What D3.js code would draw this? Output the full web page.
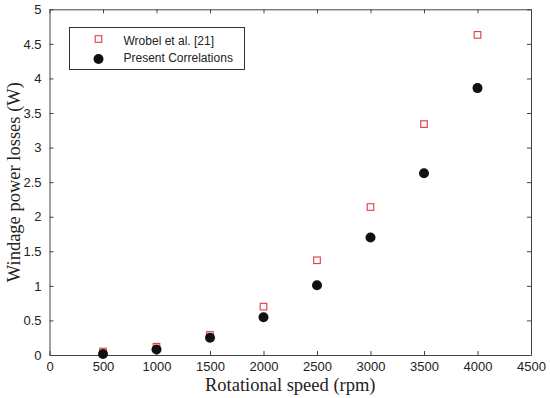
<!DOCTYPE html>
<html>
<head>
<meta charset="utf-8">
<script src="https://cdn.jsdelivr.net/npm/d3@7"></script>
<style>
  body { margin: 0; background: #fff; }
  .tick text { font-family: "Liberation Sans", Arial, sans-serif; font-size: 13px; fill: #222; }
  .axis path, .axis line { stroke: #444; }
</style>
</head>
<body>
<svg class="chart" width="550" height="398"></svg>
<script>
// Rotational speed (rpm)
let speeds = [500, 1000, 1500, 2000, 2500, 3000, 3500, 4000];
// Wrobel et al. [21]
let wrobelLosses = [0.05, 0.12, 0.29, 0.70, 1.37, 2.14, 3.34, 4.63];
// Present correlations
let presentLosses = [0.015, 0.08, 0.25, 0.545, 1.01, 1.70, 2.63, 3.86];
let xTicks = d3.range(0, 4501, 500);
let yTicks = d3.range(0, 5.01, 0.5);
let seriesNames = ["Wrobel et al. [21]", "Present Correlations"];

function buildChart() {
  let svg = d3.select(".chart");
  let margin = {left: 49.5, right: 19, top: 9.3, bottom: 43};
  let width = 550 - margin.left - margin.right;
  let height = 398 - margin.top - margin.bottom;

  let g = svg.append("g").attr("transform", "translate(" + margin.left + "," + margin.top + ")");

  let x = d3.scaleLinear().domain([0, 4500]).range([0, width]);
  let y = d3.scaleLinear().domain([0, 5]).range([height, 0]);

  // axes with inward ticks, mirrored on top and right
  g.append("g").attr("class", "axis")
      .attr("transform", "translate(0," + height + ")")
      .call(d3.axisBottom(x).tickValues(xTicks).tickSizeInner(-4).tickSizeOuter(0).tickPadding(7).tickFormat(d3.format("d")));
  g.append("g").attr("class", "axis")
      .call(d3.axisTop(x).tickValues(xTicks).tickSizeInner(-4).tickSizeOuter(0).tickFormat(""));
  g.append("g").attr("class", "axis")
      .call(d3.axisLeft(y).tickValues(yTicks).tickSizeInner(-4).tickSizeOuter(0).tickPadding(8).tickFormat(function(d){ return d3.format("")(+d.toFixed(1)); }));
  g.append("g").attr("class", "axis")
      .attr("transform", "translate(" + width + ",0)")
      .call(d3.axisRight(y).tickValues(yTicks).tickSizeInner(-4).tickSizeOuter(0).tickFormat(""));

  // Wrobel squares
  g.append("g").selectAll("rect")
    .data(speeds)
    .enter().append("rect")
      .attr("x", function(d){ return x(d) - 3.3; })
      .attr("y", function(d,i){ return y(wrobelLosses[i]) - 3.3; })
      .attr("width", 6.6)
      .attr("height", 6.6)
      .attr("fill", "none")
      .attr("stroke", "#e8363f")
      .attr("stroke-width", 1.1);

  // present correlation dots
  g.append("g").selectAll("circle")
    .data(speeds)
    .enter().append("circle")
      .attr("cx", function(d){ return x(d); })
      .attr("cy", function(d,i){ return y(presentLosses[i]); })
      .attr("r", 5)
      .attr("fill", "#111");

  // legend
  let legend = svg.append("g").attr("transform", "translate(69.5,27.5)");
  legend.append("rect")
      .attr("width", 175).attr("height", 42)
      .attr("fill", "#fff").attr("stroke", "#333").attr("stroke-width", 1);
  legend.append("rect")
      .attr("x", 29 - 3.3).attr("y", 11.5 - 3.3).attr("width", 6.6).attr("height", 6.6)
      .attr("fill", "none").attr("stroke", "#e8363f").attr("stroke-width", 1.1);
  legend.append("circle").attr("cx", 29).attr("cy", 31.5).attr("r", 5).attr("fill", "#111");
  legend.selectAll("text")
    .data(seriesNames)
    .enter().append("text")
      .attr("x", 54)
      .attr("y", function(d,i){ return 17.5 + i * 17; })
      .style("font-family", "'Liberation Sans', Arial, sans-serif")
      .style("font-size", "12px")
      .attr("fill", "#222")
      .text(function(d){ return d; });

  // axis titles
  svg.append("text")
      .attr("x", margin.left + width / 2)
      .attr("y", 391)
      .attr("text-anchor", "middle")
      .style("font-family", "'Liberation Serif', 'Times New Roman', serif")
      .style("font-size", "18.5px")
      .attr("fill", "#222")
      .text("Rotational speed (rpm)");
  svg.append("text")
      .attr("transform", "translate(20," + (margin.top + height / 2) + ") rotate(-90)")
      .attr("text-anchor", "middle")
      .style("font-family", "'Liberation Serif', 'Times New Roman', serif")
      .style("font-size", "18.5px")
      .attr("fill", "#222")
      .text("Windage power losses (W)");
}

buildChart();
</script>
</body>
</html>
